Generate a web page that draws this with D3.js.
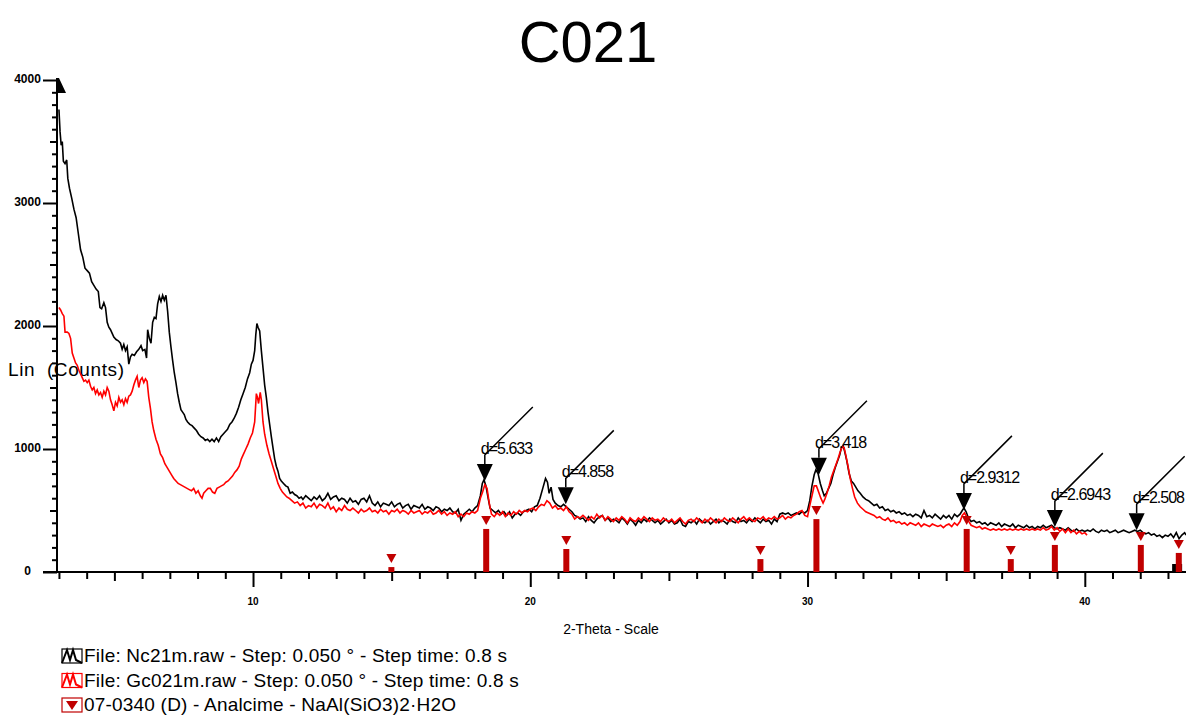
<!DOCTYPE html>
<html>
<head>
<meta charset="utf-8">
<script src="https://cdn.jsdelivr.net/npm/d3@7"></script>
<style>
  body { margin: 0; background: #fff; }
  text { font-family: "Liberation Sans", Arial, sans-serif; }
</style>
</head>
<body>
<script>
// Nc21m.raw (black) as [2-theta, counts]
var nc21m = [
  [3.00,3760],[3.04,3580],[3.08,3470],[3.12,3500],[3.16,3340],[3.22,3320],[3.28,3350],[3.32,3200],
  [3.38,3120],[3.46,3040],[3.54,2950],[3.62,2880],[3.70,2750],[3.78,2620],[3.86,2560],[3.94,2470],
  [4.02,2450],[4.10,2430],[4.18,2360],[4.26,2330],[4.34,2300],[4.42,2280],[4.48,2150],[4.54,2140],
  [4.62,2190],[4.68,2150],[4.74,2030],[4.80,1990],[4.86,1970],[4.92,1940],[4.98,1910],[5.06,1890],
  [5.14,1880],[5.22,1860],[5.28,1810],[5.34,1850],[5.40,1800],[5.46,1830],[5.52,1690],[5.58,1750],
  [5.64,1770],[5.72,1760],[5.80,1790],[5.88,1810],[5.96,1840],[6.02,1800],[6.10,1810],[6.16,1740],
  [6.20,1970],[6.26,1900],[6.32,1860],[6.38,2030],[6.44,2070],[6.50,2060],[6.56,2180],[6.62,2240],
  [6.68,2200],[6.74,2250],[6.80,2210],[6.86,2250],[6.92,2120],[6.98,1950],[7.04,1830],[7.10,1720],
  [7.16,1620],[7.22,1540],[7.28,1450],[7.34,1380],[7.40,1320],[7.46,1300],[7.52,1280],[7.58,1240],
  [7.64,1220],[7.72,1200],[7.80,1190],[7.88,1170],[7.96,1150],[8.04,1120],[8.12,1100],[8.20,1090],
  [8.28,1070],[8.36,1080],[8.44,1060],[8.52,1080],[8.60,1060],[8.68,1090],[8.76,1060],[8.84,1100],
  [8.92,1120],[9.00,1140],[9.08,1160],[9.16,1200],[9.24,1220],[9.32,1250],[9.40,1290],[9.48,1340],
  [9.56,1400],[9.64,1450],[9.72,1500],[9.80,1570],[9.88,1620],[9.94,1690],[10.00,1720],[10.06,1800],
  [10.10,1930],[10.14,2020],[10.18,1990],[10.24,1960],[10.30,1800],[10.36,1660],[10.42,1520],[10.48,1420],
  [10.54,1300],[10.60,1200],[10.66,1100],[10.72,1010],[10.78,920],[10.84,860],[10.90,820],[10.96,760],
  [11.02,740],[11.10,720],[11.18,700],[11.26,690],[11.34,640],[11.42,650],[11.50,630],[11.58,620],
  [11.66,600],[11.74,610],[11.8,590],[11.9,620],[12.0,600],[12.1,580],[12.2,610],[12.3,590],
  [12.4,620],[12.5,580],[12.6,600],[12.7,640],[12.8,590],[12.9,610],[13.0,620],[13.1,580],
  [13.2,600],[13.3,590],[13.4,560],[13.5,600],[13.6,570],[13.7,580],[13.8,550],[13.9,590],
  [14.0,600],[14.1,570],[14.2,620],[14.3,560],[14.4,540],[14.5,570],[14.6,530],[14.7,560],
  [14.8,550],[14.9,540],[15.0,570],[15.1,530],[15.2,550],[15.3,560],[15.4,520],[15.5,540],
  [15.6,550],[15.7,510],[15.8,540],[15.9,530],[16.0,520],[16.1,550],[16.2,510],[16.3,530],
  [16.4,520],[16.5,500],[16.6,530],[16.7,520],[16.8,490],[16.9,510],[17.0,500],[17.1,520],
  [17.2,490],[17.3,480],[17.4,510],[17.5,420],[17.6,470],[17.7,490],[17.8,510],[17.9,490],
  [18.0,520],[18.1,540],[18.2,620],[18.27,720],[18.33,750],[18.4,700],[18.48,600],[18.55,520],
  [18.65,500],[18.75,480],[18.85,500],[18.95,470],[19.05,490],[19.15,460],[19.25,490],[19.35,440],
  [19.45,470],[19.55,480],[19.65,460],[19.75,490],[19.85,500],[19.95,510],[20.05,490],[20.15,530],
  [20.25,540],[20.35,600],[20.45,680],[20.55,760],[20.62,730],[20.68,640],[20.75,690],[20.82,590],
  [20.9,560],[21.0,540],[21.1,530],[21.2,550],[21.3,530],[21.4,510],[21.5,490],[21.6,460],
  [21.7,450],[21.8,430],[21.9,440],[22.0,410],[22.1,450],[22.2,420],[22.3,400],[22.4,430],
  [22.5,450],[22.6,460],[22.7,420],[22.8,440],[22.9,410],[23.0,430],[23.1,420],[23.2,400],
  [23.3,440],[23.4,420],[23.5,390],[23.6,430],[23.7,410],[23.8,380],[23.9,420],[24.0,400],
  [24.1,430],[24.2,410],[24.3,440],[24.4,420],[24.5,400],[24.6,420],[24.7,390],[24.8,410],
  [24.9,430],[25.0,400],[25.1,420],[25.2,390],[25.3,400],[25.4,430],[25.5,380],[25.6,370],
  [25.7,410],[25.8,400],[25.9,420],[26.0,390],[26.1,430],[26.2,410],[26.3,400],[26.4,420],
  [26.5,390],[26.6,410],[26.7,430],[26.8,400],[26.9,420],[27.0,410],[27.1,390],[27.2,430],
  [27.3,410],[27.4,400],[27.5,440],[27.6,410],[27.7,420],[27.8,400],[27.9,430],[28.0,410],
  [28.1,440],[28.2,420],[28.3,400],[28.4,430],[28.5,410],[28.6,420],[28.7,390],[28.8,430],
  [28.9,410],[29.0,470],[29.1,480],[29.2,470],[29.3,480],[29.4,460],[29.5,470],[29.6,480],
  [29.7,470],[29.8,490],[29.9,480],[30.0,500],[30.08,580],[30.16,700],[30.24,790],[30.3,830],
  [30.38,800],[30.46,720],[30.54,660],[30.6,620],[30.68,640],[30.76,680],[30.84,720],[30.92,790],
  [31.0,850],[31.08,900],[31.16,950],[31.22,1010],[31.28,1030],[31.34,980],[31.42,900],[31.5,800],
  [31.58,740],[31.66,720],[31.74,690],[31.82,660],[31.9,640],[32.0,610],[32.1,590],[32.2,580],
  [32.3,560],[32.4,540],[32.5,550],[32.6,520],[32.7,530],[32.8,500],[32.9,510],[33.0,490],
  [33.1,500],[33.2,480],[33.3,490],[33.4,470],[33.5,480],[33.6,460],[33.7,470],[33.8,450],
  [33.9,470],[34.0,460],[34.1,440],[34.2,500],[34.3,450],[34.4,460],[34.5,440],[34.6,470],
  [34.7,450],[34.8,430],[34.9,460],[35.0,440],[35.1,460],[35.2,430],[35.3,470],[35.4,450],
  [35.5,470],[35.58,500],[35.64,520],[35.72,490],[35.8,440],[35.9,410],[36.0,420],[36.1,400],
  [36.2,410],[36.3,390],[36.4,400],[36.5,380],[36.6,400],[36.7,390],[36.8,380],[36.9,400],
  [37.0,370],[37.1,390],[37.2,380],[37.3,370],[37.4,390],[37.5,360],[37.6,380],[37.7,370],
  [37.8,360],[37.9,380],[38.0,360],[38.1,370],[38.2,350],[38.3,370],[38.4,360],[38.5,380],
  [38.6,360],[38.7,370],[38.8,380],[38.9,360],[39.0,350],[39.1,360],[39.2,350],[39.3,340],
  [39.4,360],[39.5,340],[39.6,330],[39.7,350],[39.8,330],[39.9,340],[40.0,330],[40.1,340],
  [40.2,330],[40.3,350],[40.4,330],[40.5,320],[40.6,340],[40.7,330],[40.8,340],[40.9,320],
  [41.0,330],[41.1,340],[41.2,320],[41.3,330],[41.4,340],[41.5,330],[41.6,320],[41.7,330],
  [41.8,340],[41.9,330],[42.0,340],[42.1,320],[42.2,310],[42.3,320],[42.4,300],[42.5,310],
  [42.6,290],[42.7,300],[42.8,280],[42.9,300],[43.0,290],[43.1,310],[43.2,280],[43.3,320],
  [43.4,270],[43.5,300],[43.6,320],[43.65,300]
];

// Gc021m.raw (red) as [2-theta, counts]
var gc021m = [
  [3.00,2150],[3.06,2130],[3.12,2100],[3.18,2080],[3.22,1950],[3.30,1950],[3.36,1940],[3.42,1900],
  [3.48,1780],[3.54,1740],[3.60,1700],[3.66,1680],[3.72,1640],[3.78,1610],[3.84,1580],[3.90,1550],
  [3.96,1560],[4.02,1540],[4.08,1560],[4.14,1510],[4.20,1480],[4.26,1500],[4.32,1450],[4.38,1480],
  [4.44,1440],[4.50,1460],[4.56,1420],[4.62,1470],[4.68,1440],[4.74,1500],[4.80,1470],[4.86,1400],
  [4.92,1360],[4.98,1310],[5.04,1380],[5.10,1350],[5.16,1420],[5.22,1380],[5.28,1400],[5.34,1360],
  [5.40,1410],[5.46,1380],[5.52,1430],[5.58,1440],[5.64,1470],[5.70,1520],[5.76,1560],[5.82,1590],
  [5.88,1500],[5.94,1560],[6.00,1580],[6.06,1540],[6.12,1570],[6.18,1550],[6.24,1420],[6.30,1330],
  [6.36,1220],[6.42,1150],[6.50,1080],[6.58,1030],[6.66,960],[6.74,930],[6.82,880],[6.90,850],
  [6.98,820],[7.06,790],[7.14,760],[7.22,740],[7.30,720],[7.38,710],[7.46,700],[7.54,690],
  [7.62,680],[7.70,670],[7.78,660],[7.86,680],[7.94,640],[8.02,660],[8.10,620],[8.16,600],
  [8.22,640],[8.30,660],[8.38,680],[8.46,680],[8.54,650],[8.62,640],[8.70,680],[8.78,690],
  [8.86,700],[8.94,710],[9.02,730],[9.10,740],[9.18,760],[9.26,780],[9.34,810],[9.42,830],
  [9.50,860],[9.58,920],[9.66,960],[9.74,1000],[9.82,1040],[9.90,1090],[9.98,1130],[10.06,1220],
  [10.12,1450],[10.16,1420],[10.20,1370],[10.26,1460],[10.30,1400],[10.36,1220],[10.42,1120],[10.50,1030],
  [10.58,960],[10.66,900],[10.74,840],[10.82,780],[10.90,720],[10.98,680],[11.06,650],[11.14,630],
  [11.22,610],[11.30,600],[11.40,580],[11.50,560],[11.6,570],[11.7,540],[11.8,560],[11.9,520],
  [12.0,540],[12.1,530],[12.2,560],[12.3,520],[12.4,550],[12.5,540],[12.6,520],[12.7,560],
  [12.8,510],[12.9,530],[13.0,490],[13.1,520],[13.2,500],[13.3,540],[13.4,510],[13.5,500],
  [13.6,520],[13.7,500],[13.8,480],[13.9,510],[14.0,490],[14.1,500],[14.2,520],[14.3,490],
  [14.4,500],[14.5,480],[14.6,510],[14.7,490],[14.8,500],[14.9,470],[15.0,500],[15.1,490],
  [15.2,510],[15.3,480],[15.4,500],[15.5,490],[15.6,470],[15.7,500],[15.8,480],[15.9,490],
  [16.0,500],[16.1,470],[16.2,490],[16.3,480],[16.4,500],[16.5,470],[16.6,480],[16.7,500],
  [16.8,470],[16.9,490],[17.0,460],[17.1,480],[17.2,470],[17.3,490],[17.4,450],[17.5,470],
  [17.6,450],[17.7,480],[17.8,470],[17.9,490],[18.0,480],[18.1,500],[18.2,600],[18.28,650],
  [18.36,710],[18.44,680],[18.52,560],[18.6,470],[18.7,450],[18.8,480],[18.9,460],[19.0,490],
  [19.1,450],[19.2,480],[19.3,460],[19.4,490],[19.5,470],[19.6,500],[19.7,480],[19.8,500],
  [19.9,490],[20.0,510],[20.1,520],[20.2,500],[20.3,530],[20.4,550],[20.5,540],[20.6,580],
  [20.7,560],[20.8,520],[20.9,540],[21.0,510],[21.1,520],[21.2,500],[21.3,530],[21.4,490],
  [21.5,470],[21.6,430],[21.7,450],[21.8,440],[21.9,460],[22.0,440],[22.1,420],[22.2,450],
  [22.3,430],[22.4,470],[22.5,440],[22.6,460],[22.7,420],[22.8,450],[22.9,430],[23.0,410],
  [23.1,440],[23.2,420],[23.3,450],[23.4,430],[23.5,400],[23.6,440],[23.7,420],[23.8,410],
  [23.9,440],[24.0,420],[24.1,450],[24.2,430],[24.3,410],[24.4,440],[24.5,420],[24.6,430],
  [24.7,410],[24.8,440],[24.9,420],[25.0,410],[25.1,430],[25.2,400],[25.3,420],[25.4,440],
  [25.5,410],[25.6,390],[25.7,420],[25.8,430],[25.9,410],[26.0,440],[26.1,420],[26.2,400],
  [26.3,430],[26.4,410],[26.5,440],[26.6,420],[26.7,400],[26.8,430],[26.9,410],[27.0,440],
  [27.1,420],[27.2,410],[27.3,440],[27.4,420],[27.5,400],[27.6,430],[27.7,450],[27.8,420],
  [27.9,440],[28.0,420],[28.1,410],[28.2,440],[28.3,430],[28.4,450],[28.5,420],[28.6,440],
  [28.7,430],[28.8,450],[28.9,430],[29.0,440],[29.1,460],[29.2,430],[29.3,450],[29.4,440],
  [29.5,460],[29.6,470],[29.7,490],[29.8,500],[29.9,460],[30.0,450],[30.08,540],[30.16,620],
  [30.24,700],[30.32,700],[30.4,650],[30.48,600],[30.56,560],[30.62,590],[30.7,640],[30.78,700],
  [30.86,770],[30.94,820],[31.02,870],[31.1,920],[31.18,980],[31.26,1020],[31.32,1010],[31.38,950],
  [31.46,860],[31.54,760],[31.62,680],[31.7,610],[31.8,560],[31.9,530],[32.0,510],[32.1,490],
  [32.2,480],[32.3,470],[32.4,460],[32.5,440],[32.6,450],[32.7,430],[32.8,420],[32.9,440],
  [33.0,410],[33.1,420],[33.2,400],[33.3,410],[33.4,390],[33.5,400],[33.6,380],[33.7,400],
  [33.8,390],[33.9,380],[34.0,400],[34.1,370],[34.2,390],[34.3,380],[34.4,370],[34.5,390],
  [34.6,380],[34.7,370],[34.8,380],[34.9,360],[35.0,380],[35.1,390],[35.2,370],[35.3,400],
  [35.4,380],[35.5,410],[35.58,460],[35.66,480],[35.74,450],[35.82,410],[35.9,380],[36.0,370],
  [36.1,360],[36.2,370],[36.3,350],[36.4,360],[36.5,350],[36.6,340],[36.7,350],[36.8,340],
  [36.9,350],[37.0,340],[37.1,350],[37.2,340],[37.3,350],[37.4,340],[37.5,350],[37.6,340],
  [37.7,350],[37.8,340],[37.9,350],[38.0,340],[38.1,350],[38.2,340],[38.3,350],[38.4,340],
  [38.5,360],[38.6,340],[38.7,350],[38.8,370],[38.9,340],[39.0,360],[39.1,330],[39.2,350],
  [39.3,320],[39.4,350],[39.5,320],[39.6,340],[39.7,310],[39.8,330],[39.9,310],[40.0,320],
  [40.08,300]
];

// 07-0340 (D) Analcime reference sticks
var stickTheta  = [14.99, 18.41, 21.30, 28.30, 30.32, 35.74, 37.33, 38.92, 42.02, 43.39];
var stickCounts = [40, 350, 187, 105, 430, 350, 105, 220, 220, 155];

// stray black stick at the right edge
var blackStickTheta  = [43.33];
var blackStickCounts = [65];

// d-spacing markers
var dTheta  = [18.36, 21.28, 30.41, 35.64, 38.92, 41.87];
var dCounts = [740, 550, 790, 505, 365, 340];
var dLabels = ["d=5.633", "d=4.858", "d=3.418", "d=2.9312", "d=2.6943", "d=2.508"];

var xLabels = [10, 20, 30, 40];
var yLabels = [0, 1000, 2000, 3000, 4000];

var legendLabels = [
  "File: Nc21m.raw - Step: 0.050 \u00b0 - Step time: 0.8 s",
  "File: Gc021m.raw - Step: 0.050 \u00b0 - Step time: 0.8 s",
  "07-0340 (D) - Analcime - NaAl(SiO3)2\u00b7H2O"
];

var width = 1186, height = 720;
var stickColor = "#c00000";

var svg = d3.select("body").append("svg")
  .attr("width", width)
  .attr("height", height);

var x = d3.scaleLinear().domain([2.93, 43.65]).range([57, 1186]);
var y = d3.scaleLinear().domain([0, 4000]).range([572, 80]);

// title
svg.append("text")
  .attr("x", 588).attr("y", 62)
  .attr("text-anchor", "middle")
  .style("font-size", "58px")
  .text("C021");

// x axis ticks (minor / 5s / 10s)
var xMinor = d3.range(3, 44).filter(function(d) { return d % 5 != 0; });
var xMid = [5, 15, 25, 35];
function tickAxis(g, vals, size) {
  g.call(d3.axisBottom(x).tickValues(vals).tickSize(size).tickFormat(""));
  g.select(".domain").remove();
  g.selectAll("line").attr("stroke", "#000").attr("stroke-width", 2);
}
tickAxis(svg.append("g").attr("transform", "translate(0,572)"), xMinor, 7);
tickAxis(svg.append("g").attr("transform", "translate(0,572)"), xMid, 9);
tickAxis(svg.append("g").attr("transform", "translate(0,572)"), xLabels, 15);

svg.selectAll(".xlab")
  .data(xLabels)
  .enter().append("text")
  .attr("x", function(d) { return x(d); })
  .attr("y", 605)
  .attr("text-anchor", "middle")
  .style("font-size", "10px").style("font-weight", "bold")
  .text(function(d) { return d; });

// y axis ticks
var yMinor = d3.range(0, 4001, 100).filter(function(d) { return d % 500 != 0; });
var yMid = d3.range(500, 4000, 1000);
function yTickAxis(g, vals, size) {
  g.call(d3.axisLeft(y).tickValues(vals).tickSize(size).tickFormat(""));
  g.select(".domain").remove();
  g.selectAll("line").attr("stroke", "#000").attr("stroke-width", 2);
}
yTickAxis(svg.append("g").attr("transform", "translate(57,0)"), yMinor, 5);
yTickAxis(svg.append("g").attr("transform", "translate(57,0)"), yMid, 7);
yTickAxis(svg.append("g").attr("transform", "translate(57,0)"), yLabels, 14);

svg.selectAll(".ylab")
  .data(yLabels)
  .enter().append("text")
  .attr("x", 27.5)
  .attr("y", function(d) { return y(d) + 3; })
  .attr("text-anchor", "middle")
  .style("font-size", "12px").style("font-weight", "bold")
  .text(function(d) { return d; });

// axis lines
svg.append("line")
  .attr("x1", 43).attr("x2", 1186)
  .attr("y1", 572).attr("y2", 572)
  .attr("stroke", "#000").attr("stroke-width", 2);
svg.append("line")
  .attr("x1", 57).attr("x2", 57)
  .attr("y1", 572).attr("y2", y(4000))
  .attr("stroke", "#000").attr("stroke-width", 2);
svg.append("path")
  .attr("d", "M56," + (y(4000) - 2) + " L59," + (y(4000) - 2) + " L66," + (y(4000) + 13) + " L56," + (y(4000) + 13) + " Z")
  .attr("fill", "#000");

// axis titles
svg.append("text")
  .attr("x", 8).attr("y", 376)
  .attr("xml:space", "preserve")
  .style("white-space", "pre")
  .style("font-size", "19px").style("letter-spacing", "0.6px")
  .text("Lin  (Counts)");

svg.append("text")
  .attr("x", 611).attr("y", 634)
  .attr("text-anchor", "middle")
  .style("font-size", "14px")
  .text("2-Theta - Scale");

// scans
var line = d3.line()
  .x(function(d) { return x(d[0]); })
  .y(function(d) { return y(d[1]); });

svg.append("path")
  .datum(nc21m)
  .attr("d", line)
  .attr("fill", "none")
  .attr("stroke", "#000")
  .attr("stroke-width", 1.6);

svg.append("path")
  .datum(gc021m)
  .attr("d", line)
  .attr("fill", "none")
  .attr("stroke", "#ff0000")
  .attr("stroke-width", 1.6);

// sticks
svg.selectAll(".bstick")
  .data(blackStickTheta)
  .enter().append("rect")
  .attr("x", function(d) { return x(d) - 5; })
  .attr("y", function(d, i) { return y(blackStickCounts[i]); })
  .attr("width", 10)
  .attr("height", function(d, i) { return 572 - y(blackStickCounts[i]); })
  .attr("fill", "#000");

svg.selectAll(".stick")
  .data(stickTheta)
  .enter().append("rect")
  .attr("x", function(d) { return x(d) - 3; })
  .attr("y", function(d, i) { return y(stickCounts[i]); })
  .attr("width", 6)
  .attr("height", function(d, i) { return 572 - y(stickCounts[i]); })
  .attr("fill", stickColor);

svg.selectAll(".stickTri")
  .data(stickTheta)
  .enter().append("path")
  .attr("d", function(d, i) {
    var cx = x(d), top = y(stickCounts[i]);
    return "M" + (cx - 5) + "," + (top - 13) + " L" + (cx + 5) + "," + (top - 13) + " L" + cx + "," + (top - 4) + " Z";
  })
  .attr("fill", stickColor);

// d markers
var marks = svg.selectAll(".dmark")
  .data(dTheta)
  .enter().append("g");

marks.append("path")
  .attr("d", function(d, i) {
    var cx = x(d), tip = y(dCounts[i]);
    return "M" + (cx - 8) + "," + (tip - 17) + " L" + (cx + 8) + "," + (tip - 17) + " L" + cx + "," + tip + " Z";
  })
  .attr("fill", "#000");

marks.append("path")
  .attr("d", function(d, i) {
    var cx = x(d), tip = y(dCounts[i]);
    return "M" + cx + "," + (tip - 17) + " L" + cx + "," + (tip - 26) + " l48,-48";
  })
  .attr("fill", "none")
  .attr("stroke", "#000")
  .attr("stroke-width", 1.5);

marks.append("text")
  .attr("x", function(d) { return x(d) - 4; })
  .attr("y", function(d, i) { return y(dCounts[i]) - 27; })
  .style("font-size", "16px").style("letter-spacing", "-1px")
  .text(function(d, i) { return dLabels[i]; });

// legend
var legend = svg.selectAll(".legend")
  .data(legendLabels)
  .enter().append("g")
  .attr("transform", function(d, i) { return "translate(0," + (i * 24.5) + ")"; });

legend.append("rect")
  .attr("x", 62).attr("y", 649)
  .attr("width", 20).attr("height", 14)
  .attr("fill", "none")
  .attr("stroke", function(d, i) { return i == 0 ? "#000" : (i == 1 ? "#ff0000" : stickColor); })
  .attr("stroke-width", 1.2);

legend.filter(function(d, i) { return i < 2; }).append("path")
  .attr("d", "M62,663 L67,650 L70,660 L73,650 L76,660 L82,663")
  .attr("fill", "none")
  .attr("stroke", function(d, i) { return i == 0 ? "#000" : "#ff0000"; })
  .attr("stroke-width", 2);

legend.filter(function(d, i) { return i == 2; }).append("path")
  .attr("d", "M66,652 L78,652 L72,661 Z")
  .attr("fill", stickColor);

legend.append("text")
  .attr("x", 84).attr("y", 662)
  .style("font-size", "19px").style("letter-spacing", "0.2px")
  .text(function(d) { return d; });
</script>
</body>
</html>
